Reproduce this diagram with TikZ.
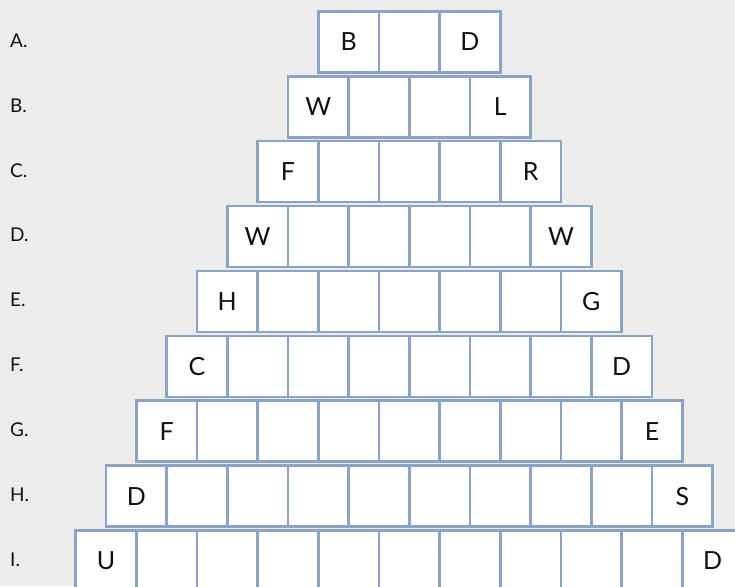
\documentclass[tikz,border=0pt]{standalone}
\usepackage{fontspec}
\setmainfont{Lato}
\usetikzlibrary{positioning}
\definecolor{cellline}{HTML}{8CA3C8}
\definecolor{pagebg}{HTML}{ECECEC}
\definecolor{inkdark}{HTML}{111111}
\tikzset{
  cell/.style={draw=cellline, line width=2.6pt, fill=white, anchor=north west,
               minimum width=60.67pt, minimum height=61pt, inner sep=0pt,
               text=inkdark, font=\fontsize{25}{25}\selectfont},
  rowlbl/.style={anchor=west, inner sep=0pt, text=inkdark,
                 font=\fontsize{19}{19}\selectfont},
}

\begin{document}
\begin{tikzpicture}
  % Page
  \path[use as bounding box, fill=pagebg] (0,0) rectangle (735pt,-586pt);

  % Rows of cells, 3 to 11 per row
  \foreach \lbl/\first/\last [count=\r from 0] in
      {A/B/D, B/W/L, C/F/R, D/W/W, E/H/G, F/C/D, G/F/E, H/D/S, I/U/D} {
    \pgfmathtruncatemacro\n{\r+3}
    \pgfmathsetmacro\ytop{-10-\r*64.9}
    \node[rowlbl] (lbl\lbl) at (10pt,\ytop pt-30.5pt) {\lbl.};
    \foreach \c in {1,...,\n} {
      \pgfmathsetmacro\xl{408-\n*30.335+(\c-1)*60.67}
      \node[cell] (\lbl\c) at (\xl pt,\ytop pt)
        {\ifnum\c=1 \first\else\ifnum\c=\n \last\fi\fi};
    }
  }
\end{tikzpicture}
\end{document}
